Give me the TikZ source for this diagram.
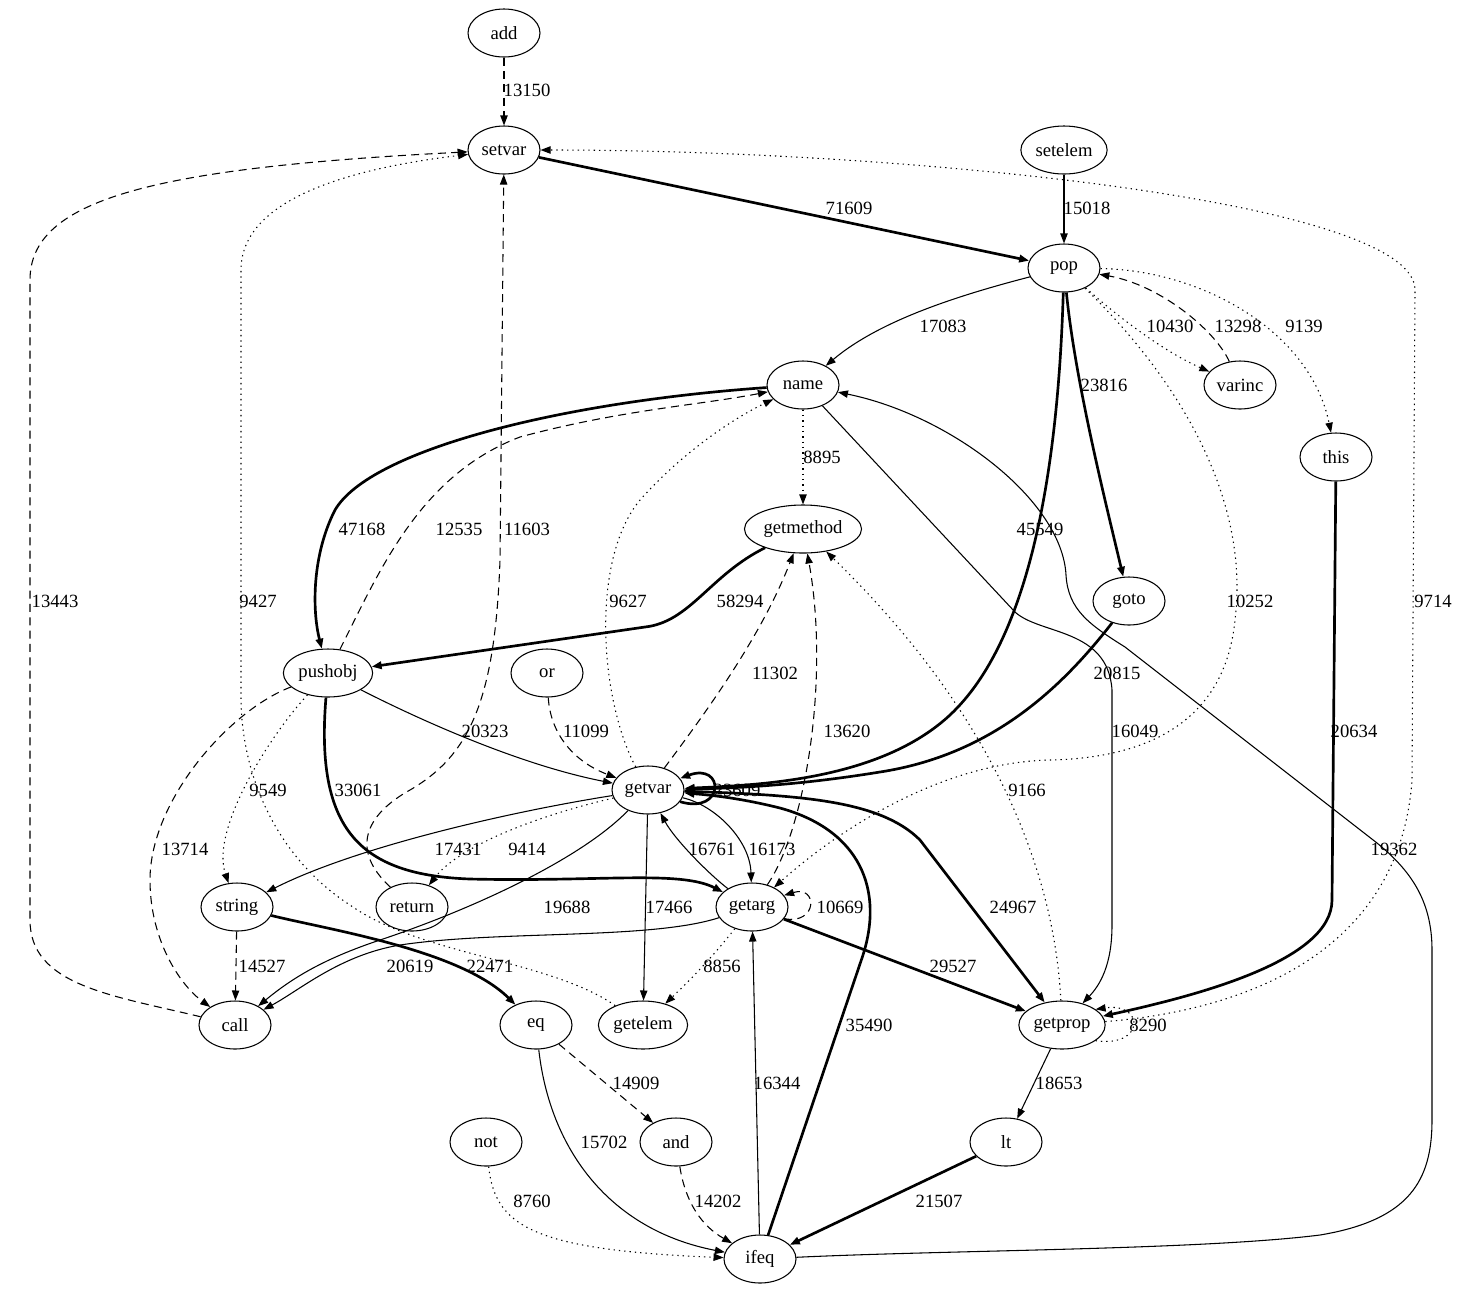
\documentclass[tikz,border=0pt]{standalone}
\usepackage{fontspec}
\setmainfont{Liberation Serif}
\usetikzlibrary{arrows.meta,shapes.geometric}

\tikzset{op/.style={draw, ellipse, line width=0.8pt, inner xsep=1.5pt, inner ysep=1pt,
    minimum width=54pt, minimum height=36pt, font=\fontsize{14}{16}\selectfont},
  cnt/.style={inner sep=0pt, font=\fontsize{14}{16}\selectfont},
  flow/.style={-{Triangle[length=7.5pt,width=5.5pt]}, line width=0.8pt},
  hot/.style={flow, line width=2pt},
  dashflow/.style={flow, dash pattern=on 6pt off 4pt},
  dotflow/.style={flow, dash pattern=on 1pt off 3pt}}

\begin{document}
\begin{tikzpicture}[x=0.75pt, y=-0.75pt]
\useasboundingbox (0,0) rectangle (1460,1290);

\node[op] (add) at (504,33) {add};
\node[op] (setvar) at (504,150) {setvar};
\node[op] (setelem) at (1064,150) {setelem};
\node[op] (pop) at (1064,268) {pop};
\node[op] (name) at (803,385) {name};
\node[op] (varinc) at (1240,385) {varinc};
\node[op] (this) at (1336,457) {this};
\node[op] (getmethod) at (803,529) {getmethod};
\node[op] (goto) at (1129,601) {goto};
\node[op] (pushobj) at (328,673) {pushobj};
\node[op] (or) at (547,673) {or};
\node[op] (getvar) at (648,790) {getvar};
\node[op] (string) at (237,907) {string};
\node[op] (return) at (412,907) {return};
\node[op] (getarg) at (752,907) {getarg};
\node[op] (call) at (235,1025) {call};
\node[op] (eq) at (536,1025) {eq};
\node[op] (getelem) at (643,1025) {getelem};
\node[op] (getprop) at (1062,1025) {getprop};
\node[op] (not) at (486,1142) {not};
\node[op] (and) at (676,1142) {and};
\node[op] (lt) at (1006,1142) {lt};
\node[op] (ifeq) at (760,1259) {ifeq};

\draw[dashflow] (add) -- (setvar);
\draw[hot] (setvar) -- (pop);
\draw[flow] (setelem) -- (pop);
\draw[flow] (pop) .. controls (960,295) and (880,320) .. (name);
\draw[hot] (pop) .. controls (1058,470) and (1030,640) .. (950,715) .. controls (880,780) and (760,785) .. (getvar);
\draw[hot] (pop) .. controls (1075,380) and (1105,500) .. (goto);
\draw[dotflow] (pop) .. controls (1110,310) and (1160,350) .. (varinc);
\draw[dashflow] (varinc) .. controls (1215,330) and (1160,285) .. (pop);
\draw[dotflow] (pop) .. controls (1200,270) and (1310,330) .. (this);
\draw[dotflow] (pop) .. controls (1180,380) and (1250,500) .. (1235,620) .. controls (1225,720) and (1150,758) .. (1050,760) .. controls (950,762) and (850,820) .. (getarg);
\draw[hot] (name) .. controls (560,402) and (370,450) .. (335,510) .. controls (312,555) and (312,610) .. (pushobj);
\draw[dashflow] (pushobj) .. controls (380,570) and (420,475) .. (520,437) .. controls (620,410) and (700,405) .. (name);
\draw[dashflow] (return) .. controls (350,850) and (365,815) .. (410,790) .. controls (470,755) and (495,700) .. (500,560) -- (setvar);
\draw[dotflow] (getvar) .. controls (600,700) and (590,560) .. (640,500) .. controls (680,455) and (730,420) .. (name);
\draw[dotflow] (name) -- (getmethod);
\draw[flow] (name) -- (1015,612) .. controls (1040,635) and (1108,628) .. (1112,690) -- (1112,925) .. controls (1112,965) and (1100,985) .. (getprop);
\draw[flow] (ifeq) .. controls (950,1250) and (1200,1250) .. (1320,1235) .. controls (1410,1220) and (1432,1180) .. (1432,1120) -- (1432,950) .. controls (1432,900) and (1410,870) .. (1377,843) -- (1125,647) .. controls (1090,625) and (1068,610) .. (1066,575) .. controls (1062,500) and (950,415) .. (name);
\draw[hot] (getmethod) .. controls (710,575) and (690,622) .. (645,627) -- (pushobj);
\draw[dashflow] (getvar) .. controls (700,720) and (760,640) .. (getmethod);
\draw[dashflow] (getarg) .. controls (805,830) and (830,680) .. (getmethod);
\draw[dotflow] (getprop) .. controls (1055,880) and (1000,720) .. (getmethod);
\draw[hot] (goto) .. controls (1060,690) and (990,755) .. (880,772) .. controls (800,785) and (740,788) .. (getvar);
\draw[hot] (this) -- (1332,900) .. controls (1332,960) and (1200,995) .. (getprop);
\draw[dashflow] (call) .. controls (110,995) and (30,985) .. (30,920) -- (30,280) .. controls (30,200) and (150,168) .. (setvar);
\draw[dotflow] (getelem) .. controls (550,960) and (420,955) .. (350,905) .. controls (280,860) and (242,780) .. (241,700) -- (241,270) .. controls (241,190) and (380,165) .. (setvar);
\draw[dotflow] (getprop) .. controls (1250,1010) and (1400,950) .. (1412,780) -- (1415,290) .. controls (1415,200) and (900,150) .. (setvar);
\draw[flow] (pushobj) .. controls (420,720) and (520,765) .. (getvar);
\draw[dashflow] (or) .. controls (550,730) and (570,760) .. (getvar);
\draw[dashflow] (pushobj) .. controls (230,710) and (150,800) .. (150,880) .. controls (150,940) and (180,985) .. (call);
\draw[dotflow] (pushobj) .. controls (270,735) and (210,830) .. (string);
\draw[hot] (pushobj) .. controls (315,830) and (360,875) .. (470,879) .. controls (600,882) and (680,870) .. (getarg);
\draw[hot] (getvar.-20) .. controls (725,815) and (725,762) .. (getvar.20);
\draw[flow] (getvar) .. controls (520,810) and (360,845) .. (string);
\draw[dotflow] (getvar) .. controls (540,815) and (460,845) .. (return);
\draw[flow] (getvar) .. controls (580,860) and (470,910) .. (380,940) .. controls (320,960) and (290,980) .. (call);
\draw[flow] (getvar) -- (getelem);
\draw[flow] (getvar) .. controls (715,805) and (750,840) .. (getarg);
\draw[flow] (getarg) .. controls (710,875) and (675,840) .. (getvar);
\draw[hot] (getvar) .. controls (800,795) and (880,800) .. (920,840) -- (getprop);
\draw[hot] (ifeq) -- (862,958) .. controls (885,890) and (860,830) .. (780,808) .. controls (740,798) and (710,795) .. (getvar);
\draw[dashflow] (getarg.-20) .. controls (818,925) and (818,885) .. (getarg.20);
\draw[flow] (getarg) .. controls (650,940) and (500,930) .. (400,945) .. controls (340,955) and (300,990) .. (call);
\draw[dotflow] (getarg) .. controls (710,960) and (690,980) .. (getelem);
\draw[hot] (getarg) -- (getprop);
\draw[flow] (ifeq) -- (getarg);
\draw[dashflow] (string) -- (call);
\draw[hot] (string) .. controls (330,930) and (460,950) .. (eq);
\draw[dotflow] (getprop.-25) .. controls (1145,1048) and (1145,1002) .. (getprop.25);
\draw[flow] (getprop) -- (lt);
\draw[dashflow] (eq) -- (and);
\draw[flow] (eq) .. controls (550,1150) and (610,1230) .. (ifeq);
\draw[dashflow] (and) .. controls (685,1200) and (700,1225) .. (ifeq);
\draw[dotflow] (not) .. controls (495,1225) and (530,1250) .. (ifeq);
\draw[hot] (lt) -- (ifeq);

\node[cnt] (w13150) at (527,90) {13150};
\node[cnt] (w71609) at (849,208) {71609};
\node[cnt] (w15018) at (1087,208) {15018};
\node[cnt] (w17083) at (943,326) {17083};
\node[cnt] (w10430) at (1170,326) {10430};
\node[cnt] (w13298) at (1238,326) {13298};
\node[cnt] (w9139) at (1304,326) {9139};
\node[cnt] (w23816) at (1104,385) {23816};
\node[cnt] (w8895) at (822,457) {8895};
\node[cnt] (w47168) at (362,529) {47168};
\node[cnt] (w12535) at (459,529) {12535};
\node[cnt] (w11603) at (527,529) {11603};
\node[cnt] (w45549) at (1040,529) {45549};
\node[cnt] (w13443) at (55,601) {13443};
\node[cnt] (w9427) at (258,601) {9427};
\node[cnt] (w9627) at (628,601) {9627};
\node[cnt] (w58294) at (740,601) {58294};
\node[cnt] (w10252) at (1250,601) {10252};
\node[cnt] (w9714) at (1433,601) {9714};
\node[cnt] (w11302) at (775,673) {11302};
\node[cnt] (w20815) at (1117,673) {20815};
\node[cnt] (w20323) at (485,731) {20323};
\node[cnt] (w11099) at (586,731) {11099};
\node[cnt] (w13620) at (847,731) {13620};
\node[cnt] (w16049) at (1135,731) {16049};
\node[cnt] (w20634) at (1354,731) {20634};
\node[cnt] (w9549) at (268,790) {9549};
\node[cnt] (w33061) at (358,790) {33061};
\node[cnt] (w23609) at (737,790) {23609};
\node[cnt] (w9166) at (1027,790) {9166};
\node[cnt] (w13714) at (185,849) {13714};
\node[cnt] (w17431) at (458,849) {17431};
\node[cnt] (w9414) at (527,849) {9414};
\node[cnt] (w16761) at (712,849) {16761};
\node[cnt] (w16173) at (772,849) {16173};
\node[cnt] (w19362) at (1394,849) {19362};
\node[cnt] (w19688) at (567,907) {19688};
\node[cnt] (w17466) at (669,907) {17466};
\node[cnt] (w10669) at (840,907) {10669};
\node[cnt] (w24967) at (1013,907) {24967};
\node[cnt] (w14527) at (262,966) {14527};
\node[cnt] (w20619) at (410,966) {20619};
\node[cnt] (w22471) at (490,966) {22471};
\node[cnt] (w8856) at (722,966) {8856};
\node[cnt] (w29527) at (953,966) {29527};
\node[cnt] (w35490) at (869,1025) {35490};
\node[cnt] (w8290) at (1148,1025) {8290};
\node[cnt] (w14909) at (636,1083) {14909};
\node[cnt] (w16344) at (777,1083) {16344};
\node[cnt] (w18653) at (1059,1083) {18653};
\node[cnt] (w15702) at (604,1142) {15702};
\node[cnt] (w8760) at (532,1201) {8760};
\node[cnt] (w14202) at (718,1201) {14202};
\node[cnt] (w21507) at (939,1201) {21507};
\end{tikzpicture}
\end{document}
